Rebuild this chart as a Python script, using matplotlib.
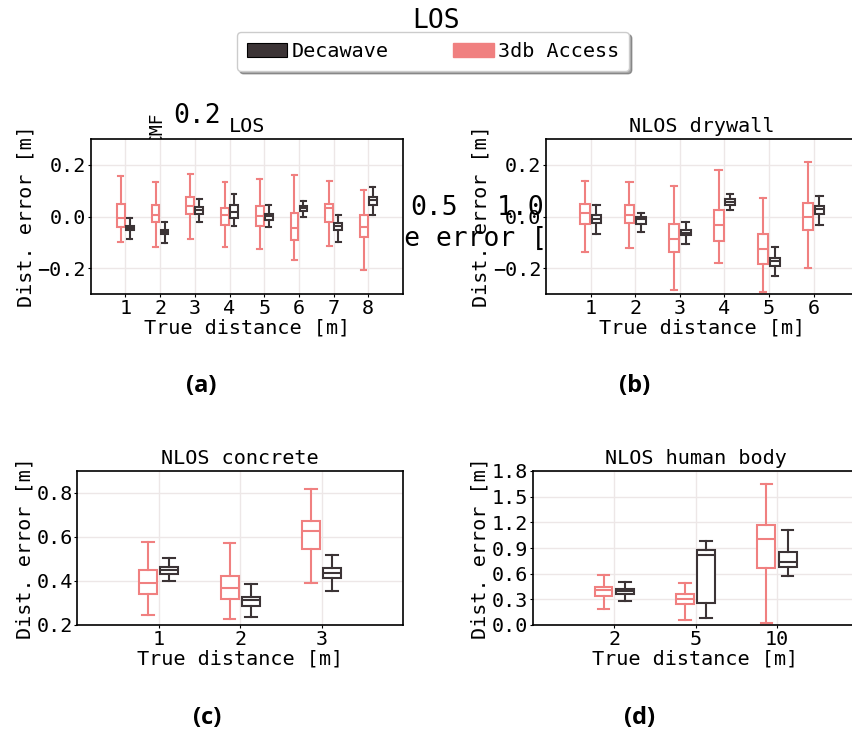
import matplotlib
matplotlib.use('Agg')
import matplotlib.pyplot as plt
from matplotlib.patches import Patch

plt.rcParams['font.family'] = ['DejaVu Sans Mono', 'DejaVu Sans']

DECA = '#3c3436'
ACC = '#f08080'
GRID = '#ede7e7'

series = ['Decawave', '3db Access']

# box stats per distance: [whislo, q1, med, q3, whishi]
los_dist = ['1', '2', '3', '4', '5', '6', '7', '8']
los_acc = [[-0.099, -0.039, -0.006, 0.049, 0.157],
           [-0.119, -0.023, 0.006, 0.044, 0.132],
           [-0.088, 0.010, 0.041, 0.077, 0.166],
           [-0.119, -0.032, 0.006, 0.034, 0.133],
           [-0.126, -0.037, 0.003, 0.039, 0.146],
           [-0.170, -0.092, -0.043, 0.013, 0.161],
           [-0.116, -0.021, 0.031, 0.049, 0.139],
           [-0.209, -0.080, -0.041, 0.005, 0.103]]
los_deca = [[-0.086, -0.054, -0.045, -0.037, -0.005],
            [-0.101, -0.068, -0.059, -0.052, -0.021],
            [-0.023, 0.010, 0.026, 0.036, 0.068],
            [-0.036, -0.004, 0.019, 0.045, 0.088],
            [-0.039, -0.013, 0.003, 0.010, 0.043],
            [0.000, 0.023, 0.034, 0.041, 0.061],
            [-0.097, -0.052, -0.036, -0.026, 0.006],
            [0.004, 0.045, 0.062, 0.075, 0.114]]

dry_dist = ['1', '2', '3', '4', '5', '6']
dry_acc = [[-0.137, -0.030, 0.012, 0.049, 0.139],
           [-0.121, -0.025, 0.005, 0.044, 0.133],
           [-0.283, -0.137, -0.086, -0.030, 0.119],
           [-0.179, -0.093, -0.032, 0.025, 0.181],
           [-0.292, -0.185, -0.125, -0.068, 0.070],
           [-0.199, -0.053, -0.001, 0.054, 0.212]]
dry_deca = [[-0.067, -0.025, -0.008, 0.004, 0.045],
            [-0.059, -0.028, -0.009, 0.000, 0.012],
            [-0.105, -0.072, -0.062, -0.052, -0.021],
            [0.026, 0.046, 0.057, 0.068, 0.088],
            [-0.231, -0.190, -0.173, -0.161, -0.119],
            [-0.031, 0.010, 0.030, 0.041, 0.081]]

con_dist = ['1', '2', '3']
con_acc = [[0.244, 0.341, 0.391, 0.450, 0.576],
           [0.229, 0.316, 0.367, 0.424, 0.571],
           [0.389, 0.546, 0.626, 0.674, 0.820]]
con_deca = [[0.398, 0.430, 0.450, 0.463, 0.504],
            [0.235, 0.287, 0.314, 0.328, 0.386],
            [0.353, 0.415, 0.438, 0.457, 0.517]]

hum_dist = ['2', '5', '10']
hum_acc = [[0.190, 0.338, 0.404, 0.446, 0.590],
           [0.058, 0.241, 0.303, 0.361, 0.489],
           [0.027, 0.663, 1.005, 1.168, 1.645]]
hum_deca = [[0.275, 0.361, 0.400, 0.423, 0.508],
            [0.085, 0.256, 0.815, 0.881, 0.985],
            [0.578, 0.679, 0.741, 0.853, 1.110]]

W, H = 852, 734
fig = plt.figure(figsize=(W / 100, H / 100), dpi=100)


def px_axes(left, top, right, bottom, **kw):
    return fig.add_axes([left / W, 1 - bottom / H, (right - left) / W, (bottom - top) / H], **kw)


# leftover background axes (mostly hidden behind the panels)
ax0 = px_axes(226, 66, 646, 190)
ax0.set_zorder(-1)
ax0.patch.set_visible(False)
for s in ax0.spines.values():
    s.set_visible(False)
ax0.set_xlim(-0.695, 1.719)
ax0.set_ylim(0, 0.322)
ax0.set_xticks([0, 0.5, 1.0, 1.5])
ax0.set_yticks([0.0, 0.2])
ax0.tick_params(length=0, labelsize=19)
ax0.set_xlabel('Absolute error [m]', fontsize=19)
ax0.set_ylabel('CMF', fontsize=13)
ax0.yaxis.set_label_coords(-0.143, 0.5)
ax0.set_title('LOS', fontsize=19, y=1.306, pad=0)

handles = [Patch(facecolor=DECA, edgecolor='black', lw=0.8),
           Patch(facecolor=ACC, edgecolor=ACC)]
fig.legend(handles, series, loc='lower left',
           bbox_to_anchor=(237 / W, 1 - 71 / H, 392 / W, 38 / H),
           mode='expand', ncol=2, fontsize=14.5, handlelength=2.0,
           handleheight=0.75, handletextpad=0.2, borderaxespad=0,
           borderpad=0.5, fancybox=True, shadow=True, framealpha=1,
           edgecolor='#cccccc')


def boxes(ax, stats, pos, color):
    st = [dict(whislo=s[0], q1=s[1], med=s[2], q3=s[3], whishi=s[4]) for s in stats]
    w = 0.22
    ax.bxp(st, positions=pos, widths=w, capwidths=0.65 * w, showfliers=False,
           patch_artist=True, manage_ticks=False,
           boxprops=dict(facecolor='white', edgecolor=color, lw=1.5),
           whiskerprops=dict(color=color, lw=1.5),
           capprops=dict(color=color, lw=1.5),
           medianprops=dict(color=color, lw=1.5))


def panel(box, title, dist, acc, deca, ylim, yticks, ylabels):
    ax = px_axes(*box)
    n = len(dist)
    xs = list(range(1, n + 1))
    ax.grid(True, color=GRID, lw=1.0)
    ax.set_axisbelow(True)
    boxes(ax, acc, [x - 0.13 for x in xs], ACC)
    boxes(ax, deca, [x + 0.13 for x in xs], DECA)
    ax.set_xlim(0, n + 1)
    ax.set_xticks(xs)
    ax.set_xticklabels(dist)
    ax.set_ylim(*ylim)
    ax.set_yticks(yticks)
    ax.set_yticklabels(ylabels)
    ax.tick_params(length=2, width=0.8, pad=1.3, labelsize=14.5)
    for s in ax.spines.values():
        s.set_color('black')
        s.set_linewidth(1.2)
    ax.set_title(title, fontsize=14.5, pad=5)
    ax.set_xlabel('True distance [m]', fontsize=14.5, labelpad=1)
    ax.set_ylabel('Dist. error [m]', fontsize=14.5, labelpad=1.5)
    return ax


pm = ['\u22120.2', '0.0', '0.2']
panel((90.7, 139, 403, 294), 'LOS', los_dist, los_acc, los_deca,
      (-0.3, 0.3), [-0.2, 0.0, 0.2], pm)
panel((546, 139, 858.3, 294), 'NLOS drywall', dry_dist, dry_acc, dry_deca,
      (-0.3, 0.3), [-0.2, 0.0, 0.2], pm)
panel((77.3, 471, 403, 625), 'NLOS concrete', con_dist, con_acc, con_deca,
      (0.2, 0.9), [0.2, 0.4, 0.6, 0.8], ['0.2', '0.4', '0.6', '0.8'])
hum_ticks = [0.0, 0.3, 0.6, 0.9, 1.2, 1.5, 1.8]
panel((532.7, 471, 858.4, 625), 'NLOS human body', hum_dist, hum_acc, hum_deca,
      (0.0, 1.8), hum_ticks, ['%.1f' % t for t in hum_ticks])

for lab, x, y in [('(a)', 201, 386), ('(b)', 635, 386), ('(c)', 207, 718), ('(d)', 640, 718)]:
    fig.text(x / W, 1 - y / H, lab, ha='center', va='center',
             family=['Open Sans', 'DejaVu Sans'], fontweight='bold', fontsize=17)

fig.savefig('out.png', dpi=100)
